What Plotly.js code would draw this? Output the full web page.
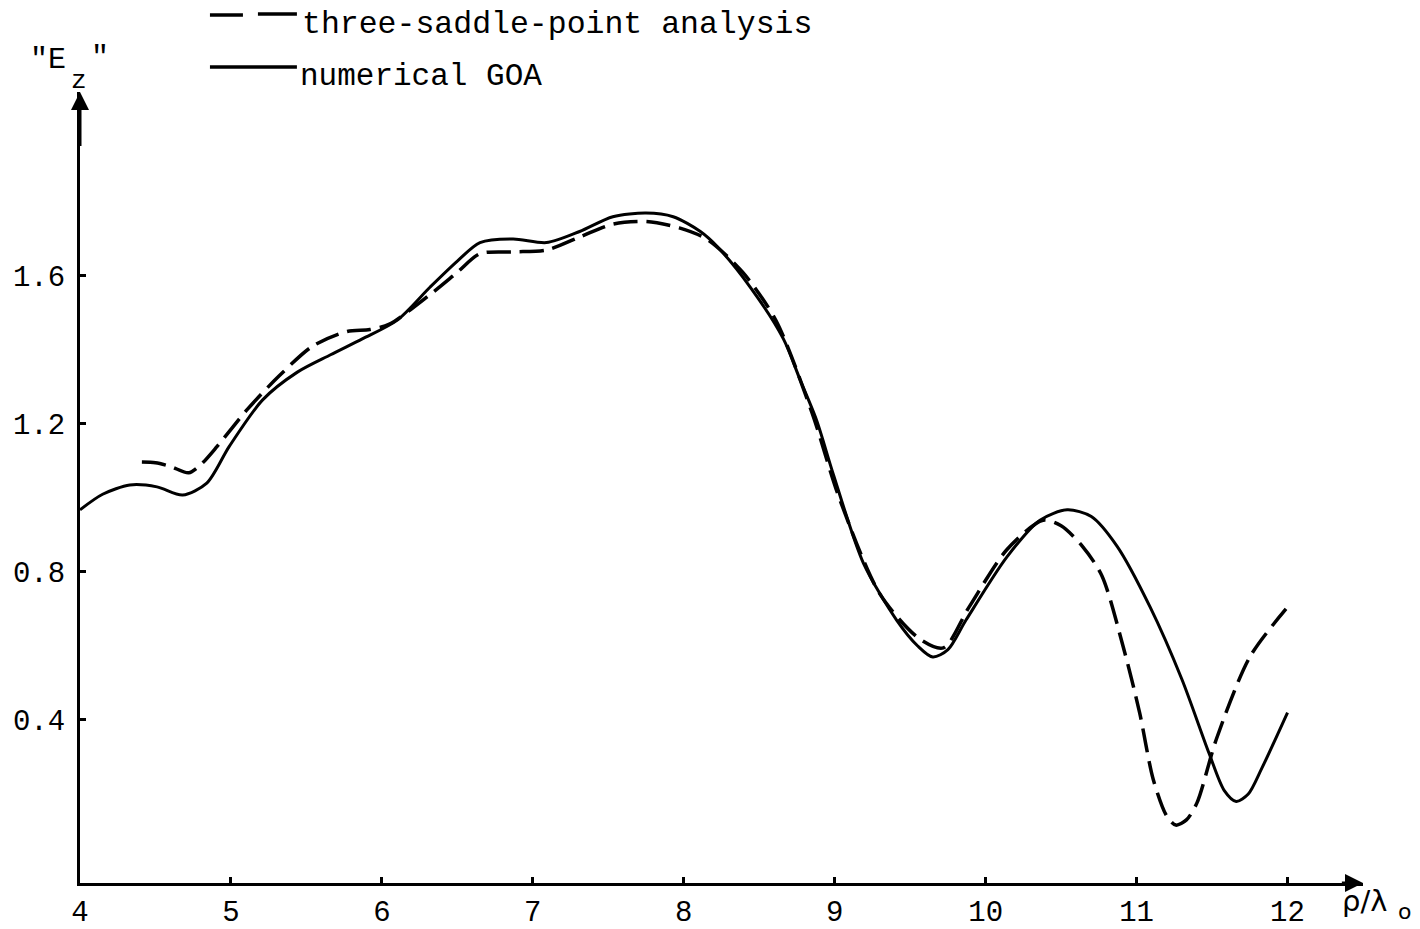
<!DOCTYPE html>
<html>
<head>
<meta charset="utf-8">
<script src="https://cdn.plot.ly/plotly-3.0.1.min.js"></script>
<style>html,body{margin:0;padding:0;background:#fff;}#chart{width:1420px;height:929px;}</style>
</head>
<body>
<div id="chart"></div>
<script>
// numerical GOA (solid)
var goaX = [4.0, 4.15, 4.33, 4.51, 4.68, 4.84, 4.99, 5.21, 5.44, 5.66, 5.87, 6.10, 6.32, 6.50, 6.65, 6.87, 7.09, 7.31, 7.53, 7.75, 7.93, 8.11, 8.22, 8.44, 8.66, 8.77, 8.88, 8.99, 9.19, 9.41, 9.55, 9.65, 9.75, 9.87, 10.14, 10.36, 10.54, 10.70, 10.87, 11.09, 11.30, 11.48, 11.58, 11.66, 11.74, 11.83, 12.0];
var goaY = [0.968, 1.01, 1.035, 1.03, 1.008, 1.04, 1.14, 1.265, 1.34, 1.387, 1.43, 1.48, 1.57, 1.64, 1.69, 1.70, 1.69, 1.72, 1.76, 1.77, 1.76, 1.72, 1.68, 1.57, 1.43, 1.32, 1.21, 1.065, 0.824, 0.67, 0.60, 0.57, 0.59, 0.67, 0.84, 0.94, 0.968, 0.95, 0.87, 0.705, 0.51, 0.31, 0.21, 0.18, 0.20, 0.27, 0.42];
// three-saddle-point analysis (dashed)
var tspX = [4.41, 4.50, 4.60, 4.72, 4.80, 4.91, 5.11, 5.32, 5.54, 5.77, 5.92, 6.05, 6.32, 6.50, 6.65, 6.87, 7.09, 7.31, 7.53, 7.75, 7.97, 8.15, 8.39, 8.61, 8.85, 9.03, 9.30, 9.56, 9.72, 9.89, 10.14, 10.38, 10.50, 10.64, 10.77, 10.91, 11.02, 11.11, 11.20, 11.26, 11.33, 11.40, 11.53, 11.75, 11.99];
var tspY = [1.097, 1.095, 1.085, 1.068, 1.09, 1.14, 1.24, 1.33, 1.41, 1.45, 1.455, 1.47, 1.55, 1.61, 1.66, 1.665, 1.67, 1.705, 1.74, 1.747, 1.73, 1.70, 1.61, 1.48, 1.23, 1.00, 0.74, 0.62, 0.595, 0.705, 0.86, 0.94, 0.925, 0.87, 0.79, 0.60, 0.42, 0.24, 0.14, 0.116, 0.13, 0.176, 0.35, 0.57, 0.70];
var xTicks = [4, 5, 6, 7, 8, 9, 10, 11, 12];
var xTickText = ['4', '5', '6', '7', '8', '9', '10', '11', '12'];
var yTicks = [0.4, 0.8, 1.2, 1.6];
var yTickText = ['0.4', '0.8', '1.2', '1.6'];
var seriesNames = ['three-saddle-point analysis', 'numerical GOA'];

var W = 1420, H = 929;
var L = 80, R = 56.5, T = 92, B = 46;
var xMin = 4, xMax = 12.5, yMin = -0.0405, yMax = 2.097;
function px(p) { return (p - L) / (W - L - R); }
function py(p) { return (H - B - p) / (H - T - B); }

var mono = 'Liberation Mono, Courier New, monospace';
var traces = [
  {x: tspX, y: tspY, mode: 'lines', name: seriesNames[0],
   line: {color: '#000', width: 3.5, dash: '24px,9px', shape: 'spline', smoothing: 0.8}},
  {x: goaX, y: goaY, mode: 'lines', name: seriesNames[1],
   line: {color: '#000', width: 3, shape: 'spline', smoothing: 0.8}}
];

var layout = {
  width: W, height: H,
  margin: {l: L, r: R, t: T, b: B},
  paper_bgcolor: '#fff', plot_bgcolor: '#fff',
  showlegend: false,
  xaxis: {range: [xMin, xMax], showgrid: false, zeroline: false, showline: true, linewidth: 3, linecolor: '#000',
          tickvals: xTicks, ticktext: xTickText, ticks: 'inside', ticklen: 6, tickwidth: 3, tickcolor: '#000',
          tickfont: {family: mono, size: 29, color: '#000'}, ticklabelstandoff: 0, fixedrange: true},
  yaxis: {range: [yMin, yMax], showgrid: false, zeroline: false, showline: true, linewidth: 3, linecolor: '#000',
          tickvals: yTicks, ticktext: yTickText, ticks: 'inside', ticklen: 6, tickwidth: 3, tickcolor: '#000',
          tickfont: {family: mono, size: 29, color: '#000'}, ticklabelstandoff: 6, fixedrange: true},
  shapes: [
    {type: 'line', xref: 'paper', yref: 'paper', x0: px(210), x1: px(243), y0: py(15), y1: py(15), line: {color: '#000', width: 3.5}},
    {type: 'line', xref: 'paper', yref: 'paper', x0: px(258), x1: px(297), y0: py(14), y1: py(14), line: {color: '#000', width: 3.5}},
    {type: 'line', xref: 'paper', yref: 'paper', x0: px(210), x1: px(297), y0: py(67), y1: py(67), line: {color: '#000', width: 3.5}}
  ],
  annotations: [
    {xref: 'x', yref: 'y', axref: 'x', ayref: 'y', x: xMax, y: yMin, ax: xMax - 0.15, ay: yMin, text: '', showarrow: true, arrowhead: 2, arrowsize: 1.2, arrowwidth: 3, arrowcolor: '#000'},
    {xref: 'x', yref: 'y', axref: 'x', ayref: 'y', x: xMin, y: yMax, ax: xMin, ay: yMax - 0.15, text: '', showarrow: true, arrowhead: 2, arrowsize: 1.2, arrowwidth: 3, arrowcolor: '#000'},
    {xref: 'paper', yref: 'paper', x: px(300), y: py(25), xanchor: 'left', yanchor: 'middle', showarrow: false,
     text: seriesNames[0], font: {family: mono, size: 31.5, color: '#000'}},
    {xref: 'paper', yref: 'paper', x: px(298), y: py(76), xanchor: 'left', yanchor: 'middle', showarrow: false,
     text: seriesNames[1], font: {family: mono, size: 31, color: '#000'}},
    {xref: 'paper', yref: 'paper', x: px(68), y: py(60), xanchor: 'right', yanchor: 'middle', showarrow: false,
     text: '"E', font: {family: mono, size: 30, color: '#000'}},
    {xref: 'paper', yref: 'paper', x: px(79), y: py(81), xanchor: 'center', yanchor: 'middle', showarrow: false,
     text: 'z', font: {family: mono, size: 26, color: '#000'}},
    {xref: 'paper', yref: 'paper', x: px(100), y: py(58), xanchor: 'center', yanchor: 'middle', showarrow: false,
     text: '"', font: {family: mono, size: 30, color: '#000'}},
    {xref: 'paper', yref: 'paper', x: px(1340), y: py(901), xanchor: 'left', yanchor: 'middle', showarrow: false,
     text: 'ρ/λ', font: {family: 'DejaVu Sans, sans-serif', size: 29, color: '#000'}},
    {xref: 'paper', yref: 'paper', x: px(1405), y: py(911), xanchor: 'center', yanchor: 'middle', showarrow: false,
     text: 'o', font: {family: 'DejaVu Sans, sans-serif', size: 22, color: '#000'}}
  ]
};

Plotly.newPlot('chart', traces, layout, {displayModeBar: false, staticPlot: true});
</script>
</body>
</html>
